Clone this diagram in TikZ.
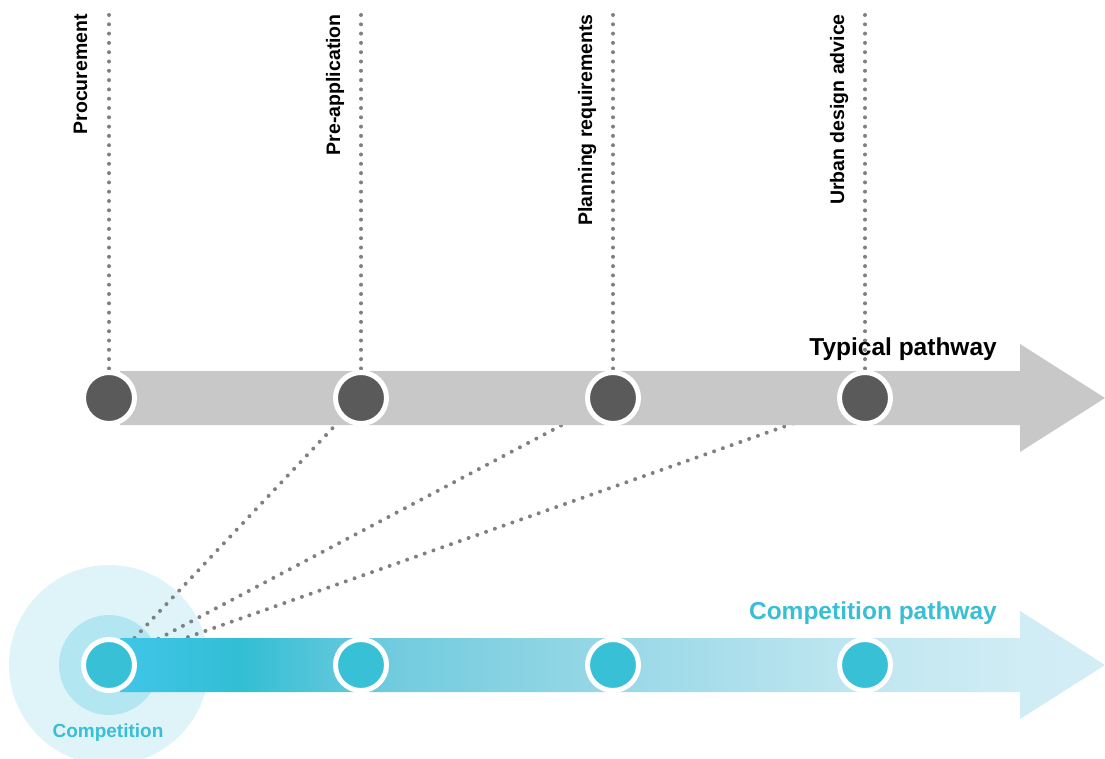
\documentclass[tikz,border=0pt]{standalone}
\usepackage{fontspec}
\setmainfont{Liberation Sans}
\definecolor{bandgrey}{RGB}{200,200,200}
\definecolor{dotgrey}{RGB}{128,128,128}
\definecolor{stepdark}{RGB}{90,90,90}
\definecolor{compcyan}{RGB}{56,192,215}
\definecolor{labelcyan}{RGB}{58,190,214}
\definecolor{halofar}{RGB}{223,244,248}
\definecolor{halonear}{RGB}{178,230,240}
\definecolor{fadeA}{RGB}{64,198,232}
\definecolor{fadeB}{RGB}{50,190,212}
\definecolor{fadeC}{RGB}{90,198,218}
\definecolor{fadeD}{RGB}{115,204,222}
\definecolor{fadeE}{RGB}{150,215,230}
\definecolor{fadeF}{RGB}{190,230,240}
\definecolor{fadeG}{RGB}{208,236,244}
\definecolor{fadeH}{RGB}{211,237,245}
% left-to-right fade of the competition arrow (path spans 25bp..75bp)
\pgfdeclarehorizontalshading{compfade}{100bp}{%
  color(0bp)=(fadeA); color(25bp)=(fadeA); color(31.1bp)=(fadeB);
  color(35.7bp)=(fadeC); color(39.2bp)=(fadeD); color(49.4bp)=(fadeE);
  color(62.1bp)=(fadeF); color(70.7bp)=(fadeG); color(75bp)=(fadeH);
  color(100bp)=(fadeH)}
\pgfdeclarelayer{halo}
\pgfdeclarelayer{links}
\pgfdeclarelayer{bars}
\pgfsetlayers{halo,links,bars,main}
\begin{document}
\begin{tikzpicture}[x=1pt,y=-1pt,
  stagedot/.style={circle,inner sep=0pt,minimum size=51pt,draw=white,line width=5pt},
  typdot/.style={stagedot,fill=stepdark},
  compdot/.style={stagedot,fill=compcyan},
  dotline/.style={dotgrey,line width=4pt,line cap=round,dash pattern=on 0pt off 9.3pt},
  stagelabel/.style={font=\fontsize{19.5}{20}\selectfont\bfseries,inner sep=0pt,
    rotate=90,anchor=base east},
  pathlabel/.style={font=\fontsize{24.5}{26}\selectfont\bfseries,inner sep=0pt,anchor=base east}]
\useasboundingbox (0,0) rectangle (1105,758);

% stage markers on both pathways
\node[typdot] (t1) at (109,398) {};
\node[typdot] (t2) at (361,398) {};
\node[typdot] (t3) at (613,398) {};
\node[typdot] (t4) at (865,398) {};
\node[compdot] (b1) at (109,665) {};
\node[compdot] (b2) at (361,665) {};
\node[compdot] (b3) at (613,665) {};
\node[compdot] (b4) at (865,665) {};

% upper ends of the stage guide lines
\coordinate (g1) at (109,15);
\coordinate (g2) at (361,15);
\coordinate (g3) at (613,15);
\coordinate (g4) at (865,15);

% stage labels
\node[stagelabel] (l1) at (87,14) {Procurement};
\node[stagelabel] (l2) at (340,14) {Pre-application};
\node[stagelabel] (l3) at (592,14) {Planning requirements};
\node[stagelabel] (l4) at (844,14) {Urban design advice};

% pathway titles
\node[pathlabel] (typ) at (997,355) {Typical pathway};
\node[pathlabel,text=labelcyan] (comp) at (997,619) {Competition pathway};
\node[font=\fontsize{19}{20}\selectfont\bfseries,text=labelcyan,inner sep=0pt,anchor=base]
  (complbl) at (108,737) {Competition};

% halo round the competition start
\begin{pgfonlayer}{halo}
  \fill[halofar] (b1.center) circle (100);
  \fill[halonear] (b1.center) circle (50);
\end{pgfonlayer}

% dotted guide and link lines
\begin{pgfonlayer}{links}
  \foreach \i in {1,...,4} \draw[dotline] (g\i) -- (t\i.center);
  \foreach \i in {2,3,4} \draw[dotline] (b1.center) -- (t\i.center);
\end{pgfonlayer}

% pathway arrows
\begin{pgfonlayer}{bars}
  \fill[bandgrey] (120,371) -- (1020,371) -- (1020,344) -- (1105,398)
    -- (1020,452) -- (1020,425) -- (120,425) -- cycle;
  \shade[shading=compfade] (120,638) -- (1020,638) -- (1020,611) -- (1105,665)
    -- (1020,719) -- (1020,692) -- (120,692) -- cycle;
\end{pgfonlayer}
\end{tikzpicture}
\end{document}
